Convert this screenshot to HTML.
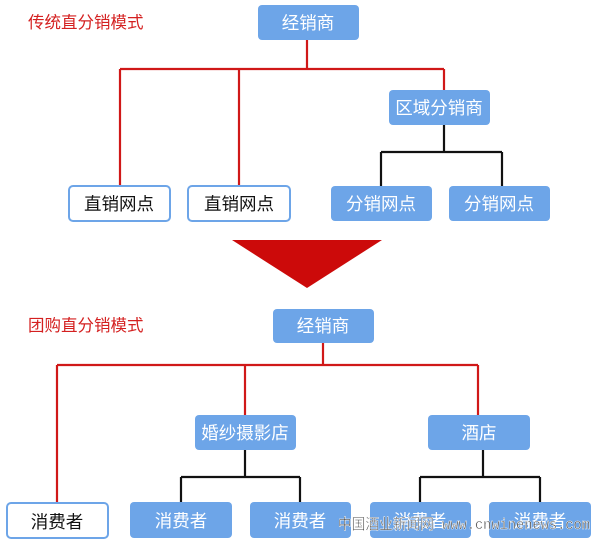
<!DOCTYPE html>
<html><head><meta charset="utf-8"><style>
html,body{margin:0;padding:0;background:#fff;overflow:hidden;}
svg{display:block;}
text{font-family:"Liberation Sans","Noto Sans CJK SC",sans-serif;}
</style></head><body>
<svg width="600" height="542" viewBox="0 0 600 542" xmlns="http://www.w3.org/2000/svg">
<rect width="600" height="542" fill="#fff"/>
<g font-size="16.5" fill="#d42020">
<text x="28" y="28">传统直分销模式</text>
<text x="28" y="331">团购直分销模式</text>
</g>
<g stroke="#d01818" stroke-width="2.2" fill="none">
<path d="M307 40 V69 M120 69 H444 M120 69 V185 M239 69 V185 M444 69 V90"/>
<path d="M323 343 V365 M57 365 H478 M57 365 V502 M245 365 V415 M478 365 V415"/>
</g>
<g stroke="#111" stroke-width="2.2" fill="none">
<path d="M444 125 V152 M381 152 H502 M381 152 V186 M502 152 V186"/>
<path d="M245 450 V477 M181 477 H300 M181 477 V502 M300 477 V502"/>
<path d="M483 450 V477 M420 477 H540 M420 477 V502 M540 477 V502"/>
</g>
<g fill="#6da5e8">
<rect x="258" y="5" width="101" height="35" rx="4"/>
<rect x="389" y="90" width="101" height="35" rx="4"/>
<rect x="331" y="186" width="101" height="35" rx="4"/>
<rect x="449" y="186" width="101" height="35" rx="4"/>
<rect x="273" y="309" width="101" height="34" rx="4"/>
<rect x="195" y="415" width="101" height="35" rx="4"/>
<rect x="428" y="415" width="102" height="35" rx="4"/>
<rect x="130" y="502" width="102" height="36" rx="4"/>
<rect x="250" y="502" width="101" height="36" rx="4"/>
<rect x="370" y="502" width="101" height="36" rx="4"/>
<rect x="489" y="502" width="102" height="36" rx="4"/>
</g>
<g fill="#fff" stroke="#6da5e8" stroke-width="2">
<rect x="69" y="186" width="101" height="35" rx="4"/>
<rect x="188" y="186" width="102" height="35" rx="4"/>
<rect x="7" y="503" width="101" height="35" rx="4"/>
</g>
<polygon points="232,240 382,240 307,288" fill="#cc0a0a"/>
<g font-size="17.5" fill="#fff" text-anchor="middle">
<text x="308" y="29">经销商</text>
<text x="439" y="114">区域分销商</text>
<text x="381" y="210">分销网点</text>
<text x="499" y="210">分销网点</text>
<text x="323" y="332">经销商</text>
<text x="245" y="439">婚纱摄影店</text>
<text x="479" y="439">酒店</text>
<text x="181" y="527">消费者</text>
<text x="300" y="527">消费者</text>
<text x="420" y="527">消费者</text>
<text x="540" y="527">消费者</text>
</g>
<g font-size="17.5" fill="#111" text-anchor="middle">
<text x="119" y="210">直销网点</text>
<text x="239" y="210">直销网点</text>
<text x="57" y="528">消费者</text>
</g>
<text x="338" y="529" font-size="15" fill="#333" stroke="#fff" stroke-width="0.5" style="font-family:'Liberation Mono','Noto Sans CJK SC',monospace" textLength="252" lengthAdjust="spacingAndGlyphs">中国酒业新闻网 www.cnwinenews.com</text>
</svg>
</body></html>
